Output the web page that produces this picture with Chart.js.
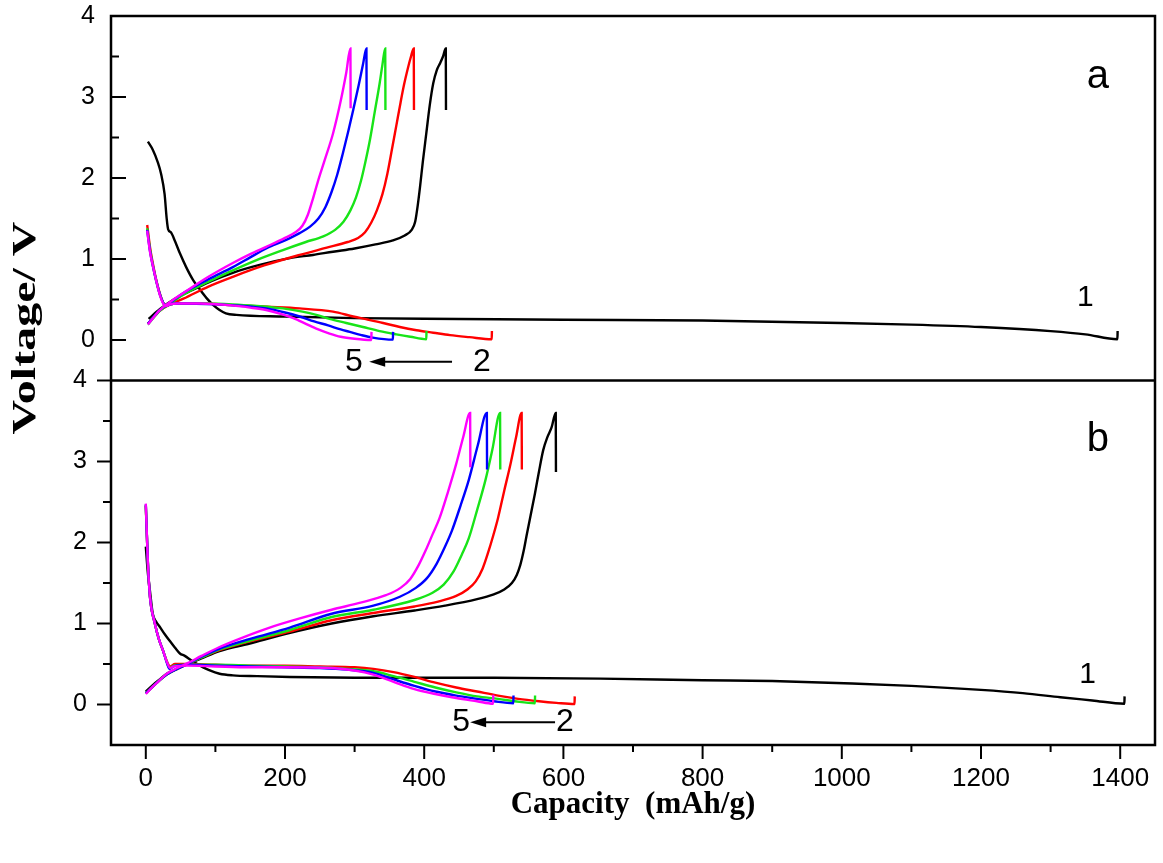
<!DOCTYPE html>
<html>
<head>
<meta charset="utf-8">
<script src="https://cdn.jsdelivr.net/npm/chart.js@4.4.1/dist/chart.umd.min.js"></script>
<style>
  html, body { margin: 0; padding: 0; background: #fff; }
</style>
</head>
<body>
<canvas id="grafico" width="1163" height="863"></canvas>
<script>
// ejes
const xTickVals = [0, 200, 400, 600, 800, 1000, 1200, 1400];
const xMinorVals = [100, 300, 500, 700, 900, 1100, 1300];
const yTickVals = [0, 1, 2, 3, 4];
const yMinorVals = [0.5, 1.5, 2.5, 3.5];
const cycleColors = ['#000000', '#ff0000', '#18e418', '#0000ff', '#ff00ff'];

// panel a: [capacidad mAh/g, voltaje V]  (d = descarga, c = carga)
const a1d = [[3,2.45],[10,2.35],[17,2.2],[22,2.05],[27,1.8],[30,1.5],[32,1.37],[36,1.33],[42,1.22],[49,1.07],[58,0.9],[68,0.74],[78,0.62],[87,0.52],[97,0.43],[106,0.37],[115,0.33],[130,0.31],[200,0.29],[300,0.27],[450,0.26],[600,0.25],[800,0.24],[1000,0.21],[1100,0.19],[1200,0.16],[1300,0.11],[1350,0.07],[1396,0.01],[1396.3,0.11]];
const a1c = [[4,0.26],[20,0.38],[40,0.5],[68,0.62],[95,0.73],[125,0.83],[165,0.93],[207,1.01],[240,1.05],[269,1.09],[300,1.13],[330,1.18],[355,1.23],[372,1.29],[382,1.36],[387,1.46],[391,1.68],[394,1.89],[398,2.2],[403,2.55],[408,2.9],[413,3.17],[418,3.33],[423,3.42],[427,3.5],[431,3.6],[431.3,2.84]];
const a2d = [[2,1.42],[6,1.15],[10,0.95],[15,0.74],[20,0.58],[25,0.46],[29,0.42],[35,0.44],[45,0.45],[80,0.45],[125,0.43],[175,0.41],[221,0.39],[269,0.35],[298,0.29],[320,0.25],[341,0.21],[365,0.16],[389,0.12],[413,0.09],[437,0.06],[465,0.035],[497,0.01],[497.3,0.11]];
const a2c = [[3,0.2],[20,0.36],[35,0.44],[54,0.51],[90,0.66],[125,0.78],[170,0.92],[221,1.05],[260,1.14],[290,1.21],[305,1.26],[315,1.33],[324,1.45],[332,1.6],[340,1.8],[347,2.05],[354,2.37],[360,2.65],[366,2.93],[371,3.15],[377,3.37],[381,3.5],[385,3.6],[385.3,2.84]];
const a3d = [[2,1.38],[6,1.12],[10,0.93],[15,0.73],[20,0.57],[25,0.46],[29,0.42],[35,0.44],[45,0.45],[80,0.45],[125,0.44],[160,0.42],[197,0.39],[225,0.35],[245,0.31],[264,0.26],[288,0.21],[312,0.16],[336,0.11],[360,0.07],[380,0.04],[403,0.01],[403.3,0.11]];
const a3c = [[3,0.19],[20,0.36],[35,0.45],[54,0.56],[90,0.72],[125,0.86],[160,0.99],[197,1.11],[230,1.21],[255,1.28],[272,1.36],[284,1.46],[294,1.6],[302,1.76],[309,1.96],[315,2.18],[322,2.47],[329,2.82],[336,3.17],[340,3.4],[344,3.6],[344.3,2.84]];
const a4d = [[2,1.36],[6,1.1],[10,0.92],[15,0.73],[20,0.57],[25,0.46],[29,0.42],[35,0.44],[45,0.45],[101,0.44],[140,0.42],[173,0.39],[200,0.34],[221,0.29],[242,0.23],[262,0.18],[280,0.13],[293,0.1],[310,0.06],[326,0.03],[355,0.005],[355.3,0.1]];
const a4c = [[3,0.2],[20,0.37],[35,0.46],[54,0.58],[90,0.75],[125,0.9],[150,1.02],[173,1.13],[200,1.23],[221,1.32],[236,1.4],[248,1.5],[258,1.64],[267,1.83],[275,2.04],[283,2.3],[291,2.58],[298,2.84],[306,3.15],[312,3.4],[317,3.6],[317.3,2.84]];
const a5d = [[2,1.35],[6,1.09],[10,0.92],[15,0.73],[20,0.56],[25,0.45],[29,0.42],[35,0.44],[45,0.45],[78,0.45],[120,0.43],[150,0.4],[173,0.37],[195,0.32],[212,0.27],[230,0.2],[245,0.14],[264,0.08],[280,0.04],[300,0.015],[324,0.0],[324.3,0.1]];
const a5c = [[3,0.19],[20,0.37],[35,0.47],[54,0.58],[90,0.78],[125,0.95],[150,1.06],[173,1.15],[200,1.26],[215,1.33],[225,1.41],[233,1.55],[240,1.74],[247,1.95],[257,2.22],[269,2.55],[280,2.95],[288,3.3],[294,3.6],[294.3,2.86]];

// panel b
const b1d = [[0,1.95],[3,1.62],[6,1.4],[10,1.12],[15,1.02],[20,0.96],[27,0.87],[34,0.79],[42,0.7],[49,0.63],[56,0.6],[66,0.54],[78,0.48],[92,0.42],[106,0.38],[125,0.36],[160,0.35],[207,0.34],[327,0.33],[500,0.33],[653,0.32],[800,0.3],[900,0.29],[1015,0.26],[1100,0.23],[1200,0.18],[1260,0.14],[1314,0.09],[1360,0.05],[1406,0.01],[1406.3,0.1]];
const b1c = [[0,0.16],[10,0.24],[20,0.31],[30,0.38],[45,0.44],[60,0.5],[80,0.57],[106,0.66],[148,0.75],[200,0.87],[267,1.0],[327,1.09],[386,1.16],[430,1.22],[476,1.3],[500,1.36],[515,1.42],[526,1.5],[533,1.6],[538,1.72],[543,1.9],[547,2.08],[553,2.34],[559,2.6],[565,2.88],[571,3.14],[577,3.3],[583,3.42],[589,3.6],[589.3,2.87]];
const b2d = [[0,2.45],[3,1.75],[6,1.33],[13,1.0],[19,0.8],[25,0.66],[30,0.54],[35,0.47],[42,0.5],[60,0.5],[100,0.49],[150,0.48],[200,0.48],[250,0.47],[300,0.46],[327,0.44],[356,0.4],[386,0.34],[416,0.27],[446,0.21],[476,0.16],[506,0.11],[535,0.07],[565,0.04],[590,0.02],[616,0.005],[616.3,0.1]];
const b2c = [[0,0.14],[10,0.22],[20,0.3],[30,0.37],[45,0.44],[60,0.5],[80,0.58],[106,0.67],[150,0.78],[207,0.9],[267,1.04],[327,1.13],[386,1.21],[420,1.27],[446,1.34],[462,1.42],[474,1.52],[484,1.68],[492,1.88],[499,2.08],[506,2.3],[515,2.64],[524,2.97],[532,3.3],[540,3.6],[540.3,2.9]];
const b3d = [[0,2.46],[3,1.75],[6,1.33],[13,1.0],[19,0.8],[25,0.66],[30,0.53],[34,0.45],[40,0.48],[60,0.49],[100,0.49],[150,0.48],[200,0.47],[250,0.46],[290,0.44],[327,0.41],[356,0.35],[386,0.28],[416,0.21],[446,0.15],[476,0.1],[506,0.07],[530,0.04],[559,0.015],[559.3,0.11]];
const b3c = [[0,0.14],[10,0.22],[20,0.3],[30,0.37],[45,0.44],[60,0.5],[80,0.58],[106,0.68],[150,0.79],[207,0.92],[267,1.08],[327,1.17],[386,1.29],[412,1.38],[428,1.48],[442,1.64],[454,1.85],[464,2.05],[476,2.4],[488,2.77],[498,3.15],[509,3.6],[509.3,2.9]];
const b4d = [[0,2.47],[3,1.75],[6,1.33],[13,1.0],[19,0.8],[25,0.66],[30,0.52],[34,0.44],[40,0.47],[60,0.49],[100,0.48],[150,0.47],[200,0.46],[250,0.45],[290,0.43],[327,0.39],[356,0.31],[386,0.23],[416,0.16],[446,0.11],[476,0.07],[500,0.04],[528,0.015],[528.3,0.11]];
const b4c = [[0,0.14],[10,0.22],[20,0.3],[30,0.37],[45,0.44],[60,0.5],[80,0.59],[106,0.69],[150,0.81],[207,0.95],[267,1.12],[327,1.22],[365,1.33],[388,1.44],[404,1.56],[418,1.74],[430,1.95],[440,2.15],[452,2.45],[464,2.77],[477,3.2],[490,3.6],[490.3,2.9]];
const b5d = [[0,2.48],[3,1.75],[6,1.33],[13,1.0],[19,0.8],[25,0.66],[30,0.53],[35,0.45],[40,0.47],[60,0.48],[100,0.47],[150,0.46],[200,0.46],[267,0.45],[300,0.42],[327,0.37],[356,0.28],[386,0.19],[416,0.13],[446,0.08],[476,0.04],[499,0.01],[499.3,0.12]];
const b5c = [[0,0.13],[10,0.22],[20,0.3],[30,0.38],[45,0.45],[60,0.51],[80,0.6],[106,0.71],[140,0.83],[178,0.95],[220,1.06],[267,1.17],[310,1.26],[345,1.35],[366,1.44],[380,1.55],[392,1.72],[402,1.9],[412,2.1],[422,2.3],[434,2.62],[446,2.97],[456,3.3],[466,3.6],[466.3,2.93]];

// anotaciones (en unidades de los ejes)
const panelLetters = [{text: 'a', axis: 'yA', x: 1368, y: 3.25}, {text: 'b', axis: 'yB', x: 1368, y: 3.26}];
const firstCycleTags = [{axis: 'yA', x: 1350, y: 0.52}, {axis: 'yB', x: 1353, y: 0.37}];
const cycleArrows = [
  {axis: 'yA', y: -0.27, from: 440, to: 321, five: 299, two: 483},
  {axis: 'yB', y: -0.22, from: 588, to: 466, five: 453, two: 602}
];

const panelA = [[a1d, a1c], [a2d, a2c], [a3d, a3c], [a4d, a4c], [a5d, a5c]];
const panelB = [[b1d, b1c], [b2d, b2c], [b3d, b3c], [b4d, b4c], [b5d, b5c]];

function armarSeries(curvas, eje) {
  const out = [];
  curvas.forEach((par, i) => {
    par.forEach((pts, k) => {
      out.push({
        label: eje + ' ciclo ' + (i + 1) + (k === 0 ? ' descarga' : ' carga'),
        data: pts.map(p => ({x: p[0], y: p[1]})),
        xAxisID: 'x',
        yAxisID: eje,
        showLine: true,
        fill: false,
        borderColor: cycleColors[i],
        backgroundColor: cycleColors[i],
        borderWidth: 2.4,
        pointRadius: 0,
        cubicInterpolationMode: 'monotone',
        order: 4 - i
      });
    });
  });
  return out;
}

const fuenteNum = '"Liberation Sans", Arial, sans-serif';

//MARCO, TICKS Y TEXTOS
const marco = {
  id: 'marco',
  afterDatasetsDraw(chart) {
    const {ctx, chartArea: ca, scales} = chart;
    const sx = scales.x, ya = scales.yA, yb = scales.yB;
    const seg = (x1, y1, x2, y2, w) => {
      ctx.lineWidth = w;
      ctx.beginPath(); ctx.moveTo(x1, y1); ctx.lineTo(x2, y2); ctx.stroke();
    };
    ctx.save();
    ctx.strokeStyle = '#000';
    ctx.fillStyle = '#000';

    // panel a: ticks hacia dentro, panel b: hacia fuera
    yTickVals.forEach(v => { const p = ya.getPixelForValue(v); seg(ca.left, p, ca.left + 15, p, 2); });
    yMinorVals.forEach(v => { const p = ya.getPixelForValue(v); seg(ca.left, p, ca.left + 8, p, 2); });
    yTickVals.forEach(v => { const p = yb.getPixelForValue(v); seg(ca.left - 14, p, ca.left, p, 2); });
    yMinorVals.forEach(v => { const p = yb.getPixelForValue(v); seg(ca.left - 8, p, ca.left, p, 2); });
    xTickVals.forEach(v => { const p = sx.getPixelForValue(v); seg(p, ca.bottom, p, ca.bottom + 14, 2); });
    xMinorVals.forEach(v => { const p = sx.getPixelForValue(v); seg(p, ca.bottom, p, ca.bottom + 7, 2); });

    ctx.lineWidth = 2.5;
    ctx.strokeRect(ca.left, ca.top, ca.right - ca.left, ca.bottom - ca.top);
    seg(ca.left, ya.bottom, ca.right, ya.bottom, 2.5);

    ctx.textAlign = 'center';
    ctx.textBaseline = 'middle';
    ctx.font = '40px ' + fuenteNum;
    panelLetters.forEach(l => ctx.fillText(l.text, sx.getPixelForValue(l.x), scales[l.axis].getPixelForValue(l.y)));
    ctx.font = '30px ' + fuenteNum;
    firstCycleTags.forEach(l => ctx.fillText('1', sx.getPixelForValue(l.x), scales[l.axis].getPixelForValue(l.y)));

    cycleArrows.forEach(a => {
      const ys = scales[a.axis];
      const py = ys.getPixelForValue(a.y);
      const x1 = sx.getPixelForValue(a.from), x2 = sx.getPixelForValue(a.to);
      ctx.font = '32px ' + fuenteNum;
      ctx.fillText('5', sx.getPixelForValue(a.five), py);
      ctx.fillText('2', sx.getPixelForValue(a.two), py);
      seg(x1, py, x2 + 12, py, 2);
      ctx.beginPath();
      ctx.moveTo(x2, py); ctx.lineTo(x2 + 16, py - 5); ctx.lineTo(x2 + 16, py + 5); ctx.closePath();
      ctx.fill();
    });

    // titulo eje Y (comun a los dos paneles)
    ctx.translate(26, 328);
    ctx.rotate(-Math.PI / 2);
    ctx.scale(1, 0.7);
    ctx.font = 'bold 48px "Liberation Serif", "Times New Roman", serif';
    ctx.fillText('Voltage/ V', 0, 0);
    ctx.restore();
  }
};

const ejeY = (peso, pad) => ({
  axis: 'y',
  type: 'linear',
  position: 'left',
  stack: 'paneles',
  stackWeight: 1,
  weight: peso,
  min: -0.5,
  max: 4,
  afterBuildTicks: s => { s.ticks = yTickVals.map(v => ({value: v})); },
  afterFit: s => { s.width = 111; s.paddingTop = 0; s.paddingBottom = 0; },
  grid: {display: false, drawTicks: false},
  border: {display: false},
  ticks: {padding: pad, color: '#000', font: {family: fuenteNum, size: 25}}
});

const ctx = document.getElementById('grafico').getContext('2d');
new Chart(ctx, {
  type: 'scatter',
  data: {datasets: armarSeries(panelA, 'yA').concat(armarSeries(panelB, 'yB'))},
  options: {
    responsive: false,
    animation: false,
    devicePixelRatio: 1,
    layout: {padding: {top: 16, right: 8, left: 0, bottom: 0}},
    plugins: {legend: {display: false}, tooltip: {enabled: false}},
    scales: {
      x: {
        type: 'linear',
        position: 'bottom',
        min: -50,
        max: 1450,
        afterBuildTicks: s => { s.ticks = xTickVals.map(v => ({value: v})); },
        afterFit: s => { s.height = 118; s.paddingLeft = 0; s.paddingRight = 0; },
        grid: {display: false, drawTicks: false},
        border: {display: false},
        ticks: {padding: 18, maxRotation: 0, color: '#000', font: {family: fuenteNum, size: 26}, callback: v => String(v)},
        title: {
          display: true,
          text: 'Capacity  (mAh/g)',
          color: '#000',
          font: {family: '"Liberation Serif", "Times New Roman", serif', size: 31, weight: 'bold'},
          padding: {top: 0, bottom: 39}
        }
      },
      yB: ejeY(1, 24),
      yA: ejeY(2, 16)
    }
  },
  plugins: [marco]
});
</script>
</body>
</html>
